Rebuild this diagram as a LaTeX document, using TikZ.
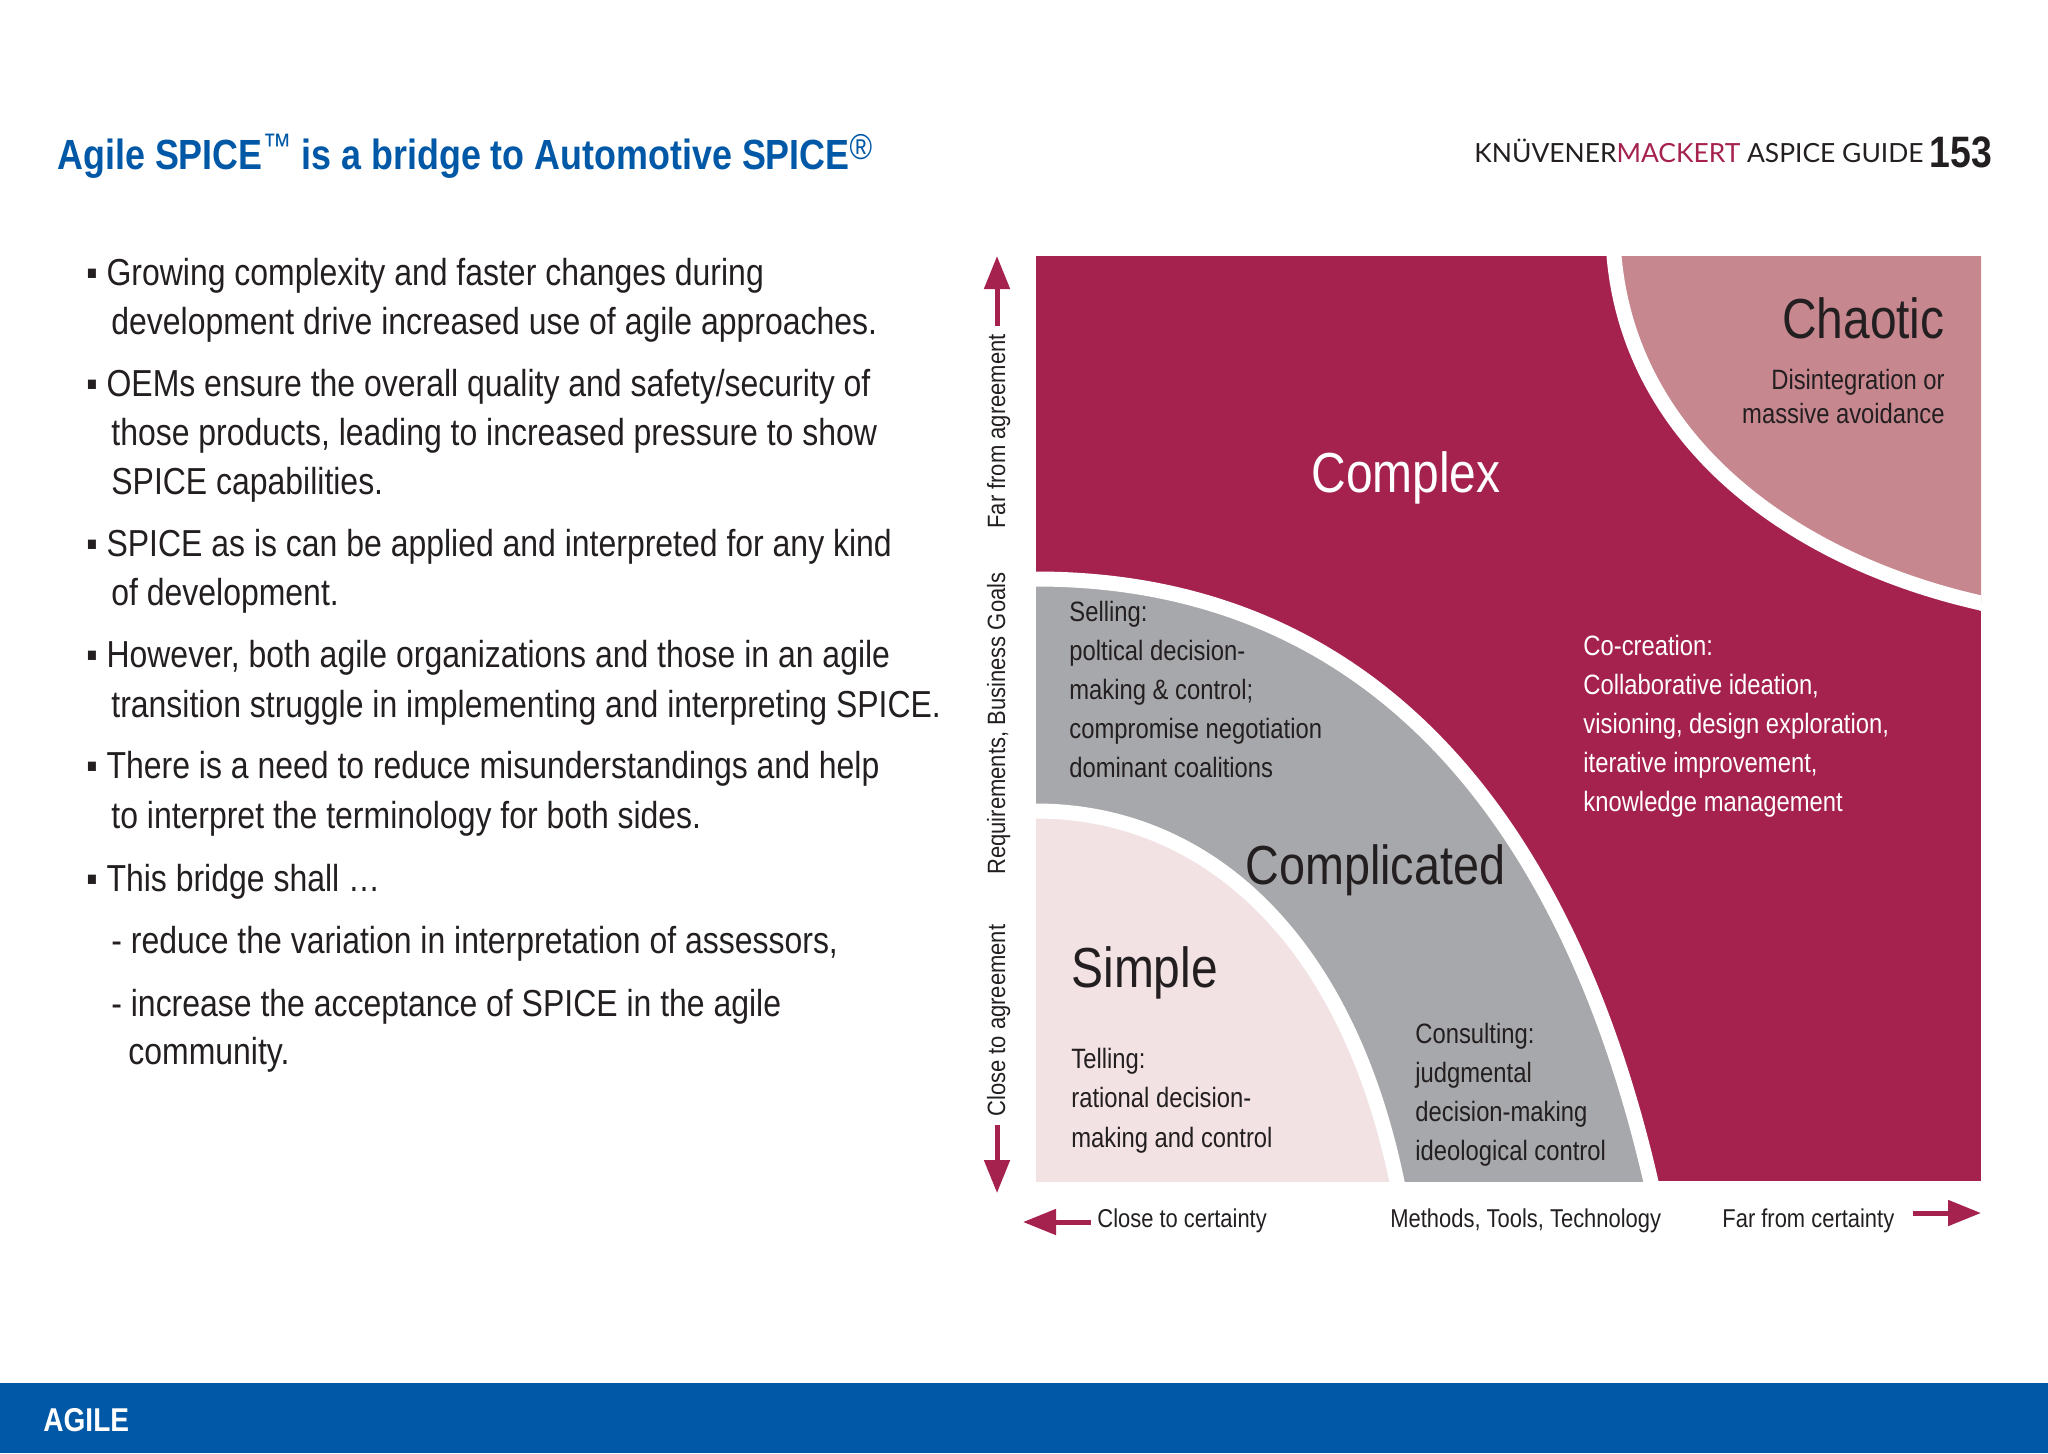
\documentclass[tikz,border=0pt]{standalone}
\usepackage{fontspec}
\setmainfont[FakeStretch=0.85]{Liberation Sans}
\newfontfamily\axisfont[FakeStretch=0.88]{Liberation Sans}
\newfontfamily\headfont{Lato}
\usetikzlibrary{arrows.meta}
\definecolor{crimson}{HTML}{A5224F}
\definecolor{rosy}{HTML}{C6878F}
\definecolor{ashgrey}{HTML}{A7A8AB}
\definecolor{blush}{HTML}{F2E2E4}
\definecolor{guideblue}{HTML}{0058A6}
\definecolor{inkgrey}{HTML}{231F20}
\tikzset{
  txt/.style={inner sep=0pt, anchor=base west, text=inkgrey},
  bodyline/.style={txt, font=\fontsize{18.8}{22}\selectfont},
  small/.style={txt, font=\fontsize{14}{16}\selectfont},
  big/.style={txt, font=\fontsize{28.2}{32}\selectfont},
  axis/.style={txt, font=\fontsize{12.9}{15}\selectfont},
  sideaxis/.style={txt, font=\axisfont\fontsize{12.5}{15}\selectfont, rotate=90},
  field/.style={draw=white, line width=7.5pt},
  bigarrow/.style={draw=crimson, line width=2.5pt, -{Triangle[length=16.5pt,width=12.5pt]}},
}
\begin{document}
\begin{tikzpicture}[x=0.5pt, y=-0.5pt]
  \useasboundingbox (0,0) rectangle (2048,1453);

  % header
  \node[txt, text=guideblue, font=\bfseries\fontsize{21.1}{25}\selectfont] (title) at (57,169)
    {Agile SPICE\raisebox{6pt}{\normalfont\fontsize{17}{17}\selectfont ™}\ is a bridge to Automotive SPICE\raisebox{5pt}{\normalfont\fontsize{18}{18}\selectfont ®}};
  \node[txt, font=\headfont\fontsize{13.2}{15}\selectfont] (brand) at (1474,162)
    {KNÜVENER\textcolor{crimson}{MACKERT} ASPICE GUIDE};
  \node[txt, font=\bfseries\fontsize{22}{26}\selectfont] (page) at (1929,167) {153};

  % left column
  \node[bodyline] (g1) at (86,285) {▪ Growing complexity and faster changes during};
  \node[bodyline] (g2) at (111,334) {development drive increased use of agile approaches.};
  \node[bodyline] (o1) at (86,396) {▪ OEMs ensure the overall quality and safety/security of};
  \node[bodyline] (o2) at (111,445) {those products, leading to increased pressure to show};
  \node[bodyline] (o3) at (111,494) {SPICE capabilities.};
  \node[bodyline] (s1) at (86,556) {▪ SPICE as is can be applied and interpreted for any kind};
  \node[bodyline] (s2) at (111,605) {of development.};
  \node[bodyline] (h1) at (86,667) {▪ However, both agile organizations and those in an agile};
  \node[bodyline] (h2) at (111,717) {transition struggle in implementing and interpreting SPICE.};
  \node[bodyline] (t1) at (86,778) {▪ There is a need to reduce misunderstandings and help};
  \node[bodyline] (t2) at (111,828) {to interpret the terminology for both sides.};
  \node[bodyline] (b1) at (86,891) {▪ This bridge shall …};
  \node[bodyline] (b2) at (111,953) {- reduce the variation in interpretation of assessors,};
  \node[bodyline] (b3) at (111,1016) {- increase the acceptance of SPICE in the agile};
  \node[bodyline] (b4) at (128,1064) {community.};

  % matrix
  \fill[crimson] (1036,256) rectangle (1981,1181);
  \begin{scope}
    \clip (1036,256) rectangle (1981,1181);
    \path[field, fill=rosy] (1614,240) -- (1614,256) .. controls (1630,440) and (1790,560) .. (1981,603) -- (2000,610) -- (2000,240) -- cycle;
    \path[field, fill=ashgrey] (1020,579) -- (1036,579) .. controls (1380,579) and (1570,830) .. (1651,1182) -- (1651,1200) -- (1020,1200) -- cycle;
    \path[field, fill=blush] (1020,811) -- (1036,811) .. controls (1200,811) and (1345,930) .. (1397,1182) -- (1397,1200) -- (1020,1200) -- cycle;
  \end{scope}

  \node[big, text=white] (complex) at (1311,492) {Complex};
  \node[big, anchor=base east] (chaotic) at (1945,338) {Chaotic};
  \node[big, font=\fontsize{27.5}{32}\selectfont] (complicated) at (1245,884) {Complicated};
  \node[big] (simple) at (1071,987) {Simple};

  \node[small, anchor=base east] (ch1) at (1945,389) {Disintegration or};
  \node[small, anchor=base east] (ch2) at (1945,423) {massive avoidance};

  \node[small] (se1) at (1069,621) {Selling:};
  \node[small] (se2) at (1069,660) {poltical decision-};
  \node[small] (se3) at (1069,699) {making \& control;};
  \node[small] (se4) at (1069,738) {compromise negotiation};
  \node[small] (se5) at (1069,777) {dominant coalitions};

  \node[small, text=white] (co1) at (1583,655) {Co-creation:};
  \node[small, text=white] (co2) at (1583,694) {Collaborative ideation,};
  \node[small, text=white] (co3) at (1583,733) {visioning, design exploration,};
  \node[small, text=white] (co4) at (1583,772) {iterative improvement,};
  \node[small, text=white] (co5) at (1583,811) {knowledge management};

  \node[small] (te1) at (1071,1068) {Telling:};
  \node[small] (te2) at (1071,1107) {rational decision-};
  \node[small] (te3) at (1071,1147) {making and control};

  \node[small] (cn1) at (1415,1043) {Consulting:};
  \node[small] (cn2) at (1415,1082) {judgmental};
  \node[small] (cn3) at (1415,1121) {decision-making};
  \node[small] (cn4) at (1415,1160) {ideological control};

  % axes
  \node[sideaxis] (far) at (1005,529) {Far from agreement};
  \node[sideaxis] (req) at (1005,875) {Requirements, Business Goals};
  \node[sideaxis] (close) at (1005,1117) {Close to agreement};
  \node[axis] (ccert) at (1097,1227) {Close to certainty};
  \node[axis] (mtt) at (1390,1227) {Methods, Tools, Technology};
  \node[axis] (fcert) at (1722,1227) {Far from certainty};

  \coordinate (upA) at (997,326);
  \coordinate (upB) at (997,256);
  \coordinate (downA) at (997,1125);
  \coordinate (downB) at (997,1193);
  \coordinate (leftA) at (1091,1222);
  \coordinate (leftB) at (1023,1222);
  \coordinate (rightA) at (1913,1213);
  \coordinate (rightB) at (1981,1213);
  \draw[bigarrow] (upA) -- (upB);
  \draw[bigarrow] (downA) -- (downB);
  \draw[bigarrow] (leftA) -- (leftB);
  \draw[bigarrow] (rightA) -- (rightB);

  % footer
  \fill[guideblue] (0,1383) rectangle (2048,1453);
  \node[txt, text=white, font=\bfseries\fontsize{16.5}{21}\selectfont] (agile) at (43,1431) {AGILE};
\end{tikzpicture}
\end{document}
